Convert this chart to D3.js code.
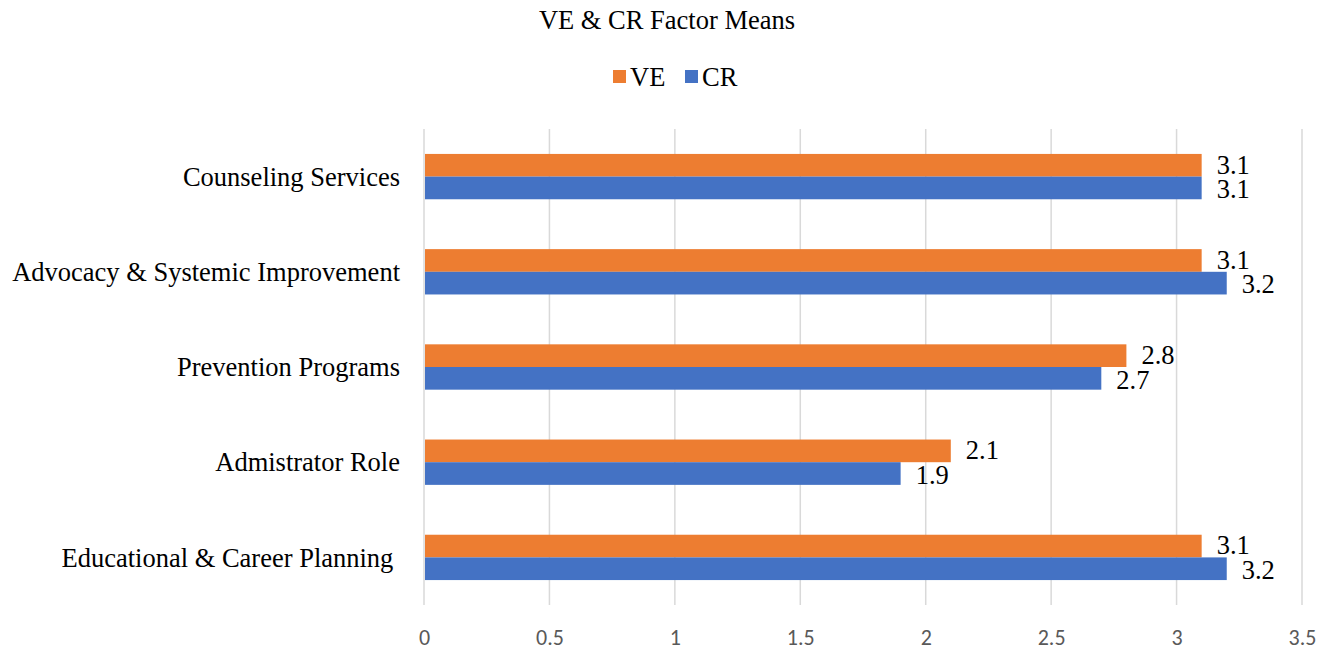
<!DOCTYPE html>
<html>
<head>
<meta charset="utf-8">
<script src="https://cdn.jsdelivr.net/npm/d3@7"></script>
<style>
  body { margin: 0; background: #fff; }
  svg { display: block; }
  .cat { white-space: pre; }
</style>
</head>
<body>
<div id="chart"></div>
<script>
// data, top to bottom as drawn
const categories = ["Counseling Services", "Advocacy & Systemic Improvement", "Prevention Programs", "Admistrator Role", "Educational & Career Planning "];
const seriesNames = ["VE", "CR"];
const veValues = [3.1, 3.1, 2.8, 2.1, 3.1];
const crValues = [3.1, 3.2, 2.7, 1.9, 3.2];
const xTicks = [0, 0.5, 1, 1.5, 2, 2.5, 3, 3.5];
const colors = ["#ed7d31", "#4472c4"];

const width = 1333, height = 651;
const serif = "'Liberation Serif', 'Times New Roman', serif";
const sans = "Carlito, 'Liberation Sans', 'Open Sans', sans-serif";
const fs = 26.5;

const svg = d3.select("#chart").append("svg")
  .attr("width", width)
  .attr("height", height);

const x = d3.scaleLinear().domain([0, 3.5]).range([424, 1302]);
const y = d3.scaleBand().domain(categories).range([129, 605]).padding(0);
const inner = d3.scaleBand().domain(seriesNames)
  .range([0, y.bandwidth()]).paddingInner(0).paddingOuter(1.1);

// gridlines
svg.append("g")
  .selectAll("line")
  .data(xTicks)
  .join("line")
  .attr("x1", d => x(d)).attr("x2", d => x(d))
  .attr("y1", 129).attr("y2", 605)
  .attr("stroke", "#d9d9d9")
  .attr("stroke-width", 1.5);

// x axis labels
const xAxis = d3.axisBottom(x).tickValues(xTicks).tickSize(0).tickPadding(0)
  .tickFormat(d => String(d));
svg.append("g")
  .attr("transform", "translate(0,629)")
  .call(xAxis)
  .call(g => g.select(".domain").remove())
  .selectAll("text")
  .attr("font-family", sans)
  .attr("font-size", 22)
  .attr("fill", "#595959");

// category labels
svg.append("g")
  .selectAll("text")
  .data(categories)
  .join("text")
  .attr("class", "cat")
  .attr("x", 400)
  .attr("y", d => y(d) + y.bandwidth() / 2)
  .attr("dy", "0.35em")
  .attr("text-anchor", "end")
  .attr("font-family", serif)
  .attr("font-size", fs)
  .attr("fill", "#000")
  .text(d => d);

const rows = categories.map((c, i) => ({ cat: c, values: [veValues[i], crValues[i]] }));

const groups = svg.append("g")
  .selectAll("g")
  .data(rows)
  .join("g")
  .attr("transform", d => `translate(0,${y(d.cat)})`);

groups.selectAll("rect")
  .data(d => d.values.map((v, j) => ({ name: seriesNames[j], v, j })))
  .join("rect")
  .attr("x", x(0) + 1)
  .attr("y", d => inner(d.name))
  .attr("width", d => x(d.v) - x(0) - 1)
  .attr("height", inner.bandwidth())
  .attr("fill", d => colors[d.j]);

// value labels, nudged apart a touch so the pair doesn't collide
groups.selectAll("text")
  .data(d => d.values.map((v, j) => ({ name: seriesNames[j], v, j })))
  .join("text")
  .attr("x", d => x(d.v) + 15)
  .attr("y", d => inner(d.name) + inner.bandwidth() / 2 + (d.j === 0 ? -1 : 1))
  .attr("dy", "0.35em")
  .attr("font-family", serif)
  .attr("font-size", fs)
  .attr("fill", "#000")
  .text(d => d.v.toFixed(1));

// title
svg.append("text")
  .attr("x", 667)
  .attr("y", 29)
  .attr("text-anchor", "middle")
  .attr("font-family", serif)
  .attr("font-size", fs)
  .attr("fill", "#000")
  .text("VE & CR Factor Means");

// legend
const legend = svg.append("g").attr("transform", "translate(613,77)");
const legendX = [0, 72];
seriesNames.forEach((n, i) => {
  const g = legend.append("g").attr("transform", `translate(${legendX[i]},0)`);
  g.append("rect").attr("x", 0).attr("y", -7).attr("width", 13).attr("height", 13).attr("fill", colors[i]);
  g.append("text").attr("x", 17).attr("y", 0).attr("dy", "0.35em")
    .attr("font-family", serif).attr("font-size", fs).attr("fill", "#000").text(n);
});
</script>
</body>
</html>
